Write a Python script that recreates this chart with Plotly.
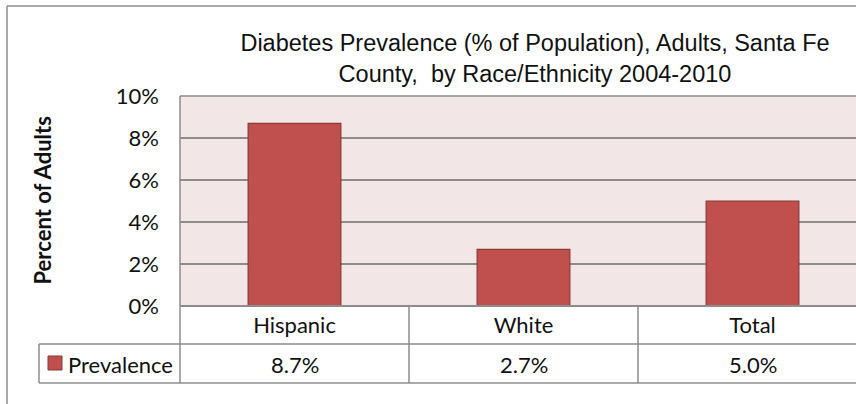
import plotly.graph_objects as go

# Data
categories = ["Hispanic", "White", "Total"]
prevalence = [8.7, 2.7, 5.0]
series_name = "Prevalence"
y_ticks = [0, 2, 4, 6, 8, 10]
y_tick_labels = ["0%", "2%", "4%", "6%", "8%", "10%"]

W, H = 856, 404
L, T, B = 180, 96, 98          # plot area: x 180..856 (clipped), y 96..306
PW, PH = W - L, H - T - B
CAT_W = 229                    # pixel width of one category slot

def px_x(px):
    return (px - L) / PW

def px_y(py):
    return (H - B - py) / PH

bar_fill = "#C0504D"
bar_line = "#8C3836"
grid = "#8C8C8C"
body_font = "Lato"

fig = go.Figure()
fig.add_trace(go.Bar(
    x=categories, y=prevalence, name=series_name,
    marker=dict(color=bar_fill, line=dict(color=bar_line, width=1.2)),
    width=0.405, showlegend=False, hoverinfo="skip",
))

x_right = -0.5 + PW / CAT_W

fig.update_layout(
    width=W, height=H,
    margin=dict(l=L, r=0, t=T, b=B, autoexpand=False),
    paper_bgcolor="white",
    plot_bgcolor="#F2E7E6",
    title=dict(
        text="Diabetes Prevalence (% of Population), Adults, Santa Fe<br>County,  by Race/Ethnicity 2004-2010",
        font=dict(family="Liberation Sans", size=23.5, color="#111111"),
        x=px_x(535), xref="paper", xanchor="center",
        y=1 - 51 / H, yref="container", yanchor="middle",
    ),
    xaxis=dict(
        range=[-0.5, x_right], type="category",
        showgrid=False, showline=False, ticks="",
        tickfont=dict(family=body_font, size=22, color="#111111"),
        ticklabelstandoff=4,
    ),
    yaxis=dict(
        range=[0, 10], tickvals=y_ticks, ticktext=y_tick_labels,
        showgrid=True, gridcolor=grid, gridwidth=1.5,
        zeroline=False, showline=False, ticks="",
        tickfont=dict(family=body_font, size=22, color="#111111"),
        ticklabelstandoff=20,
    ),
)

# Axis title
fig.add_annotation(
    text="<b>Percent of Adults</b>", textangle=-90,
    x=px_x(26), y=0.5, xref="paper", yref="paper",
    showarrow=False, font=dict(family=body_font, size=22, color="#111111"),
)

line = dict(color=grid, width=1.5)
# chart frame (top & left)
fig.add_shape(type="line", xref="paper", yref="paper", x0=px_x(7), x1=px_x(W + 5),
              y0=px_y(6), y1=px_y(6), line=line)
fig.add_shape(type="line", xref="paper", yref="paper", x0=px_x(7), x1=px_x(7),
              y0=px_y(6), y1=px_y(H + 5), line=line)
# plot area border (left / top / bottom axis)
fig.add_shape(type="line", xref="paper", yref="paper", x0=0, x1=0,
              y0=1, y1=px_y(383), line=line)
fig.add_shape(type="line", xref="paper", yref="paper", x0=0, x1=1.05,
              y0=1, y1=1, line=line)
fig.add_shape(type="line", xref="paper", yref="paper", x0=0, x1=1.05,
              y0=0, y1=0, line=dict(color=grid, width=2))

# data table grid
fig.add_shape(type="line", xref="paper", yref="paper", x0=px_x(39), x1=1.05,
              y0=px_y(344), y1=px_y(344), line=line)
fig.add_shape(type="line", xref="paper", yref="paper", x0=px_x(39), x1=1.05,
              y0=px_y(383), y1=px_y(383), line=line)
fig.add_shape(type="line", xref="paper", yref="paper", x0=px_x(39), x1=px_x(39),
              y0=px_y(344), y1=px_y(383), line=line)
for i in range(1, len(categories)):
    fig.add_shape(type="line", xref="x", yref="paper", x0=i - 0.5, x1=i - 0.5,
                  y0=0, y1=px_y(383), line=line)

# legend key + series name
fig.add_shape(type="rect", xref="paper", yref="paper",
              x0=px_x(48), x1=px_x(62), y0=px_y(370), y1=px_y(356),
              fillcolor=bar_fill, line=dict(color=bar_line, width=1))
fig.add_annotation(text=series_name, x=px_x(66), y=px_y(364), xref="paper", yref="paper",
                   xanchor="left", yanchor="middle", showarrow=False,
                   font=dict(family=body_font, size=22, color="#111111"))

# value row
for c, v in zip(categories, prevalence):
    fig.add_annotation(text=f"{v:.1f}%", x=c, y=px_y(364), xref="x", yref="paper",
                       yanchor="middle", showarrow=False,
                       font=dict(family=body_font, size=22, color="#111111"))

fig.write_html("out.html")
